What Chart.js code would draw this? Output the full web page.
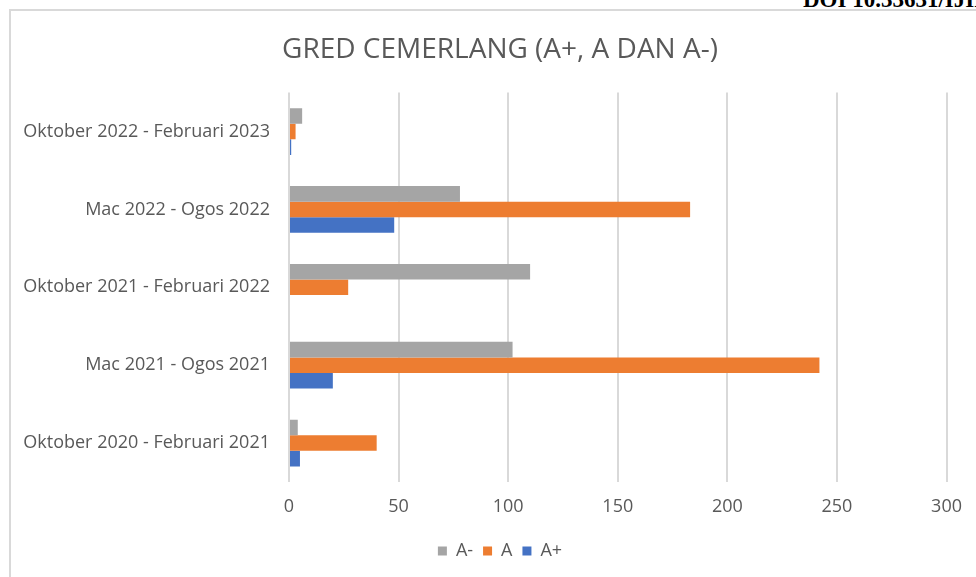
<!DOCTYPE html>
<html>
<head>
<meta charset="utf-8">
<script src="https://cdn.jsdelivr.net/npm/chart.js@4/dist/chart.umd.min.js"></script>
<style>
  body { margin: 0; background: #fff; overflow: hidden; }
  #doi { position: absolute; left: 803px; top: -12px; font: bold 23px/23px "Liberation Serif", serif; color: #000; white-space: nowrap; }
  #frame { position: absolute; left: 9px; top: 9px; width: 1000px; height: 600px; border-left: 2px solid #d9d9d9; border-top: 2px solid #d9d9d9; }
  #wrap { position: absolute; left: 0; top: 0; width: 976px; height: 577px; }
</style>
</head>
<body>
<div id="doi">DOI 10.33631/IJIR</div>
<div id="frame"></div>
<div id="wrap"><canvas id="chart"></canvas></div>
<script>
// kategori dari atas ke bawah, seperti dalam carta asal
var periods = [
  "Oktober 2022 - Februari 2023",
  "Mac 2022 - Ogos 2022",
  "Oktober 2021 - Februari 2022",
  "Mac 2021 - Ogos 2021",
  "Oktober 2020 - Februari 2021"
];
var gradeAMinus = [6, 78, 110, 102, 4];
var gradeA = [3, 183, 27, 242, 40];
var gradeAPlus = [1, 48, 0, 20, 5];
var xTicks = [0, 50, 100, 150, 200, 250, 300];

var textColor = "#595959";
var font = "'Open Sans', sans-serif";

// label kategori panjang melepasi padding kiri, jadi jangan dipotong
var unclipLabels = {
  id: "unclipLabels",
  afterLayout: function (chart) { chart.scales.y.left = 0; }
};

var ctx = document.getElementById("chart");
var chart = new Chart(ctx, {
  type: "bar",
  data: {
    labels: periods,
    datasets: [
      { label: "A-", data: gradeAMinus, backgroundColor: "#a5a5a5" },
      { label: "A", data: gradeA, backgroundColor: "#ed7d31" },
      { label: "A+", data: gradeAPlus, backgroundColor: "#4472c4" }
    ]
  },
  plugins: [unclipLabels],
  options: {
    indexAxis: "y",
    responsive: true,
    maintainAspectRatio: false,
    animation: false,
    datasets: { bar: { barPercentage: 1, categoryPercentage: 0.6 } },
    layout: { padding: { left: 50, right: 26, top: 10, bottom: 7 } },
    plugins: {
      title: {
        display: true,
        text: "GRED CEMERLANG (A+, A DAN A-)",
        color: textColor,
        font: { family: font, size: 28, weight: "normal" },
        padding: { top: 23, bottom: 26 }
      },
      legend: {
        position: "bottom",
        labels: {
          color: textColor,
          font: { family: font, size: 18 },
          boxWidth: 9,
          boxHeight: 9,
          padding: 10
        }
      },
      tooltip: { enabled: false }
    },
    scales: {
      x: {
        min: xTicks[0],
        max: xTicks[xTicks.length - 1],
        afterBuildTicks: function (scale) {
          scale.ticks = xTicks.map(function (v) { return { value: v }; });
        },
        afterFit: function (scale) { scale.height = 50; },
        ticks: { color: textColor, font: { family: font, size: 18 }, padding: 14 },
        grid: { color: "#d9d9d9", lineWidth: 2, drawTicks: false },
        border: { display: false }
      },
      y: {
        afterFit: function (scale) { scale.width = 239; },
        ticks: { color: textColor, font: { family: font, size: 18 }, padding: 19 },
        grid: { display: false, drawTicks: false },
        border: { display: false }
      }
    }
  }
});
</script>
</body>
</html>
